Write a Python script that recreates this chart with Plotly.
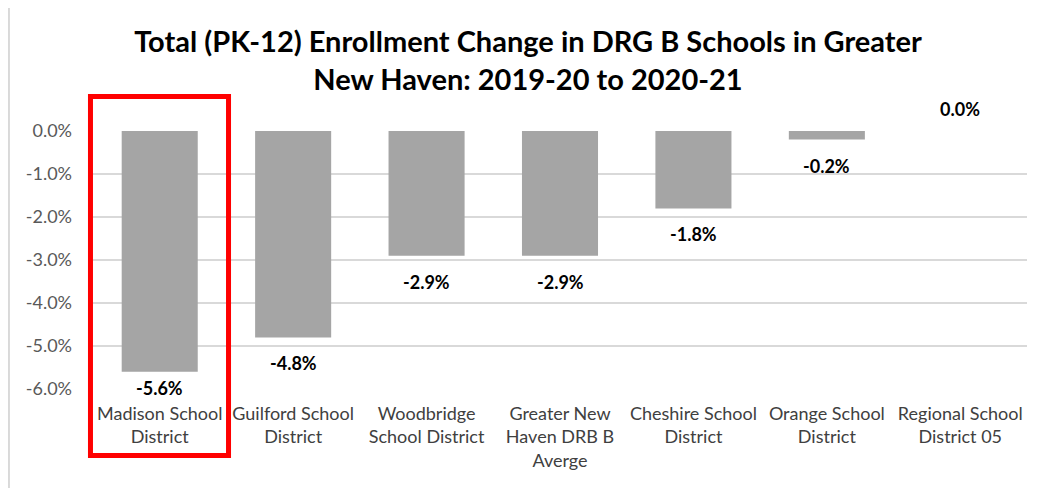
import plotly.graph_objects as go

categories = [
    "Madison School<br>District",
    "Guilford School<br>District",
    "Woodbridge<br>School District",
    "Greater New<br>Haven DRB B<br>Averge",
    "Cheshire School<br>District",
    "Orange School<br>District",
    "Regional School<br>District 05",
]
values = [-5.6, -4.8, -2.9, -2.9, -1.8, -0.2, 0.0]
tick_vals = [0, -1, -2, -3, -4, -5, -6]
tick_text = ["0.0%", "-1.0%", "-2.0%", "-3.0%", "-4.0%", "-5.0%", "-6.0%"]
title_text = "Total (PK-12) Enrollment Change in DRG B Schools in Greater<br>New Haven: 2019-20 to 2020-21"

FONT = "Lato, 'Open Sans', sans-serif"

fig = go.Figure()
fig.add_trace(go.Bar(
    x=categories, y=values,
    marker=dict(color="#A5A5A5", line=dict(width=0)),
    width=0.57,
    hoverinfo="skip",
))

annotations = []
for c, v in zip(categories, values):
    if v >= 0:
        shift = 22
    elif v < -5.3:
        shift = -16
    else:
        shift = -26
    annotations.append(dict(
        x=c, y=v, xref="x", yref="y", text=f"<b>{v:.1f}%</b>",
        showarrow=False, yanchor="middle", yshift=shift,
        font=dict(family=FONT, size=18, color="#000000"),
    ))

fig.update_layout(
    width=1040, height=488,
    margin=dict(l=85, r=21, t=123, b=107),
    paper_bgcolor="white", plot_bgcolor="white",
    showlegend=False,
    title=dict(text=f"<b>{title_text}</b>", x=0.5, xanchor="center", y=0.909, yanchor="top",
               font=dict(family=FONT, size=29, color="#000000")),
    font=dict(family=FONT, size=18, color="#595959"),
    annotations=annotations,
)
fig.update_xaxes(showgrid=False, showline=False, zeroline=False, ticks="",
                 ticklabelstandoff=12,
                 tickfont=dict(family=FONT, size=18, color="#404040"))
fig.update_yaxes(range=[-6, 0], tickvals=tick_vals, ticktext=tick_text,
                 showgrid=True, gridcolor="#D9D9D9", gridwidth=2, zeroline=False,
                 showline=False, ticks="", ticklabelstandoff=20,
                 tickfont=dict(family=FONT, size=18, color="#595959"))

# highlight box around first category
fig.add_shape(type="rect", xref="paper", yref="paper", x0=-0.0027, x1=0.1451, y0=-0.2578, y1=1.1337,
              line=dict(color="#FF0000", width=5), fillcolor="rgba(0,0,0,0)", layer="above")
# chart frame left edge
fig.add_shape(type="line", xref="paper", yref="paper", x0=-0.09, x1=-0.09, y0=-1, y1=2,
              line=dict(color="#D9D9D9", width=2))

fig.write_html("out.html")
